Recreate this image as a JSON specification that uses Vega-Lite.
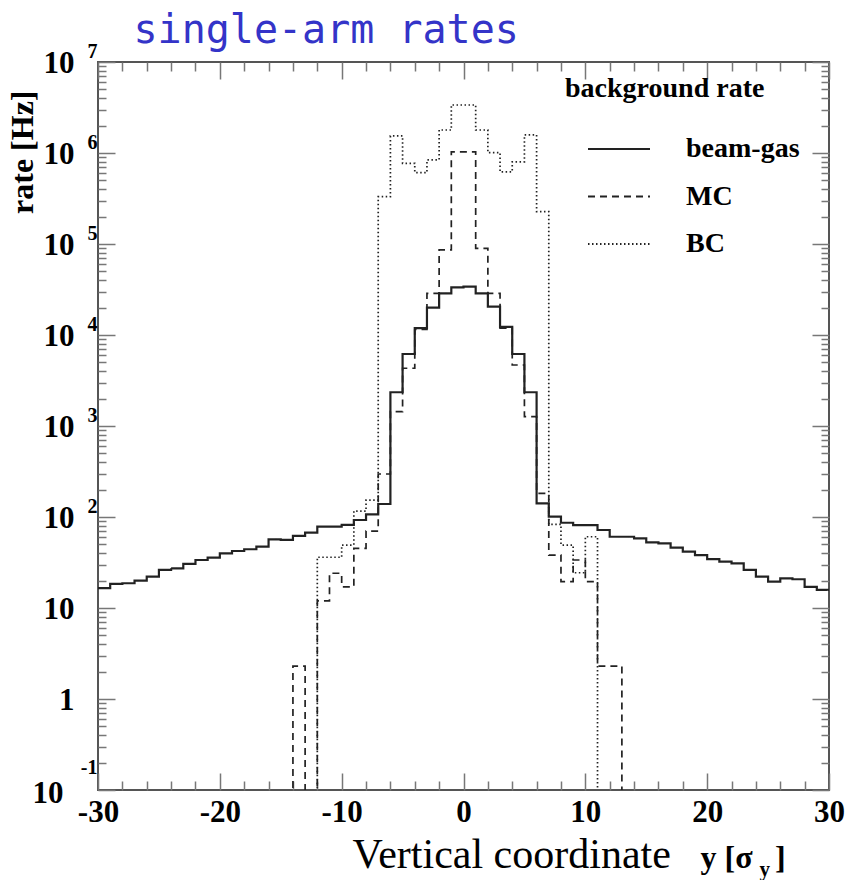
{
  "$schema": "https://vega.github.io/schema/vega-lite/v6.json",
  "width": 731,
  "height": 728,
  "autosize": {"type": "none"},
  "padding": {"left": 98, "top": 62, "right": 21, "bottom": 90},
  "data": {"values": [
    {"s":"beam-gas","x":-30,"v":16.5},{"s":"beam-gas","x":-29,"v":18.4},{"s":"beam-gas","x":-28,"v":18.7},{"s":"beam-gas","x":-27,"v":20.0},{"s":"beam-gas","x":-26,"v":22.1},{"s":"beam-gas","x":-25,"v":26.2},{"s":"beam-gas","x":-24,"v":27.3},{"s":"beam-gas","x":-23,"v":30.5},{"s":"beam-gas","x":-22,"v":33.7},{"s":"beam-gas","x":-21,"v":35.7},
    {"s":"beam-gas","x":-20,"v":39.9},{"s":"beam-gas","x":-19,"v":42.3},{"s":"beam-gas","x":-18,"v":44.2},{"s":"beam-gas","x":-17,"v":47.2},{"s":"beam-gas","x":-16,"v":56.9},{"s":"beam-gas","x":-15,"v":56},{"s":"beam-gas","x":-14,"v":62},{"s":"beam-gas","x":-13,"v":67.2},{"s":"beam-gas","x":-12,"v":78.2},{"s":"beam-gas","x":-11,"v":78.2},
    {"s":"beam-gas","x":-10,"v":82},{"s":"beam-gas","x":-9,"v":92.7},{"s":"beam-gas","x":-8,"v":107},{"s":"beam-gas","x":-7,"v":139},{"s":"beam-gas","x":-6,"v":2350},{"s":"beam-gas","x":-5,"v":6180},{"s":"beam-gas","x":-4,"v":11900},{"s":"beam-gas","x":-3,"v":20000},{"s":"beam-gas","x":-2,"v":28700},{"s":"beam-gas","x":-1,"v":33400},
    {"s":"beam-gas","x":0,"v":34000},{"s":"beam-gas","x":1,"v":28700},{"s":"beam-gas","x":2,"v":20500},{"s":"beam-gas","x":3,"v":12300},{"s":"beam-gas","x":4,"v":6180},{"s":"beam-gas","x":5,"v":2350},{"s":"beam-gas","x":6,"v":141},{"s":"beam-gas","x":7,"v":101},{"s":"beam-gas","x":8,"v":86.5},{"s":"beam-gas","x":9,"v":81.6},
    {"s":"beam-gas","x":10,"v":81.6},{"s":"beam-gas","x":11,"v":72},{"s":"beam-gas","x":12,"v":60.7},{"s":"beam-gas","x":13,"v":60.7},{"s":"beam-gas","x":14,"v":58.3},{"s":"beam-gas","x":15,"v":52.7},{"s":"beam-gas","x":16,"v":51.4},{"s":"beam-gas","x":17,"v":46.0},{"s":"beam-gas","x":18,"v":41.6},{"s":"beam-gas","x":19,"v":38.2},
    {"s":"beam-gas","x":20,"v":34.5},{"s":"beam-gas","x":21,"v":32.3},{"s":"beam-gas","x":22,"v":31.0},{"s":"beam-gas","x":23,"v":26.2},{"s":"beam-gas","x":24,"v":22.1},{"s":"beam-gas","x":25,"v":19.5},{"s":"beam-gas","x":26,"v":21.2},{"s":"beam-gas","x":27,"v":20.7},{"s":"beam-gas","x":28,"v":17.1},{"s":"beam-gas","x":29,"v":15.8},
    {"s":"beam-gas","x":30,"v":15.8},

    {"s":"MC","x":-30,"v":0.01},{"s":"MC","x":-29,"v":0.01},{"s":"MC","x":-28,"v":0.01},{"s":"MC","x":-27,"v":0.01},{"s":"MC","x":-26,"v":0.01},{"s":"MC","x":-25,"v":0.01},{"s":"MC","x":-24,"v":0.01},{"s":"MC","x":-23,"v":0.01},{"s":"MC","x":-22,"v":0.01},{"s":"MC","x":-21,"v":0.01},
    {"s":"MC","x":-20,"v":0.01},{"s":"MC","x":-19,"v":0.01},{"s":"MC","x":-18,"v":0.01},{"s":"MC","x":-17,"v":0.01},{"s":"MC","x":-16,"v":0.01},{"s":"MC","x":-15,"v":0.01},{"s":"MC","x":-14,"v":2.3},{"s":"MC","x":-13,"v":0.01},{"s":"MC","x":-12,"v":12.0},{"s":"MC","x":-11,"v":24.1},
    {"s":"MC","x":-10,"v":17.1},{"s":"MC","x":-9,"v":45.3},{"s":"MC","x":-8,"v":70},{"s":"MC","x":-7,"v":297},{"s":"MC","x":-6,"v":1440},{"s":"MC","x":-5,"v":4310},{"s":"MC","x":-4,"v":11500},{"s":"MC","x":-3,"v":28700},{"s":"MC","x":-2,"v":86000},{"s":"MC","x":-1,"v":1030000},
    {"s":"MC","x":0,"v":1030000},{"s":"MC","x":1,"v":89700},{"s":"MC","x":2,"v":28700},{"s":"MC","x":3,"v":11900},{"s":"MC","x":4,"v":4680},{"s":"MC","x":5,"v":1270},{"s":"MC","x":6,"v":182},{"s":"MC","x":7,"v":38.2},{"s":"MC","x":8,"v":19.5},{"s":"MC","x":9,"v":33.7},
    {"s":"MC","x":10,"v":19.5},{"s":"MC","x":11,"v":2.3},{"s":"MC","x":12,"v":2.3},{"s":"MC","x":13,"v":0.01},{"s":"MC","x":14,"v":0.01},{"s":"MC","x":15,"v":0.01},{"s":"MC","x":16,"v":0.01},{"s":"MC","x":17,"v":0.01},{"s":"MC","x":18,"v":0.01},{"s":"MC","x":19,"v":0.01},
    {"s":"MC","x":20,"v":0.01},{"s":"MC","x":21,"v":0.01},{"s":"MC","x":22,"v":0.01},{"s":"MC","x":23,"v":0.01},{"s":"MC","x":24,"v":0.01},{"s":"MC","x":25,"v":0.01},{"s":"MC","x":26,"v":0.01},{"s":"MC","x":27,"v":0.01},{"s":"MC","x":28,"v":0.01},{"s":"MC","x":29,"v":0.01},
    {"s":"MC","x":30,"v":0.01},

    {"s":"BC","x":-30,"v":0.01},{"s":"BC","x":-29,"v":0.01},{"s":"BC","x":-28,"v":0.01},{"s":"BC","x":-27,"v":0.01},{"s":"BC","x":-26,"v":0.01},{"s":"BC","x":-25,"v":0.01},{"s":"BC","x":-24,"v":0.01},{"s":"BC","x":-23,"v":0.01},{"s":"BC","x":-22,"v":0.01},{"s":"BC","x":-21,"v":0.01},
    {"s":"BC","x":-20,"v":0.01},{"s":"BC","x":-19,"v":0.01},{"s":"BC","x":-18,"v":0.01},{"s":"BC","x":-17,"v":0.01},{"s":"BC","x":-16,"v":0.01},{"s":"BC","x":-15,"v":0.01},{"s":"BC","x":-14,"v":0.01},{"s":"BC","x":-13,"v":0.01},{"s":"BC","x":-12,"v":36.1},{"s":"BC","x":-11,"v":36.1},
    {"s":"BC","x":-10,"v":49.2},{"s":"BC","x":-9,"v":116},{"s":"BC","x":-8,"v":153},{"s":"BC","x":-7,"v":331000},{"s":"BC","x":-6,"v":1540000},{"s":"BC","x":-5,"v":770000},{"s":"BC","x":-4,"v":608000},{"s":"BC","x":-3,"v":840000},{"s":"BC","x":-2,"v":1790000},{"s":"BC","x":-1,"v":3370000},
    {"s":"BC","x":0,"v":3370000},{"s":"BC","x":1,"v":1790000},{"s":"BC","x":2,"v":1010000},{"s":"BC","x":3,"v":620000},{"s":"BC","x":4,"v":800000},{"s":"BC","x":5,"v":1580000},{"s":"BC","x":6,"v":227000},{"s":"BC","x":7,"v":83.1},{"s":"BC","x":8,"v":49.2},{"s":"BC","x":9,"v":24.4},
    {"s":"BC","x":10,"v":60.7},{"s":"BC","x":11,"v":0.01},{"s":"BC","x":12,"v":0.01},{"s":"BC","x":13,"v":0.01},{"s":"BC","x":14,"v":0.01},{"s":"BC","x":15,"v":0.01},{"s":"BC","x":16,"v":0.01},{"s":"BC","x":17,"v":0.01},{"s":"BC","x":18,"v":0.01},{"s":"BC","x":19,"v":0.01},
    {"s":"BC","x":20,"v":0.01},{"s":"BC","x":21,"v":0.01},{"s":"BC","x":22,"v":0.01},{"s":"BC","x":23,"v":0.01},{"s":"BC","x":24,"v":0.01},{"s":"BC","x":25,"v":0.01},{"s":"BC","x":26,"v":0.01},{"s":"BC","x":27,"v":0.01},{"s":"BC","x":28,"v":0.01},{"s":"BC","x":29,"v":0.01},
    {"s":"BC","x":30,"v":0.01}
  ]},
  "layer": [
    {
      "transform": [{"filter": "datum.s === 'beam-gas'"}],
      "mark": {"type": "line", "interpolate": "step-after", "clip": true, "color": "#222222", "strokeWidth": 2.2},
      "encoding": {
        "x": {"field": "x", "type": "quantitative", "scale": {"domain": [-30, 30], "nice": false, "zero": false},
          "axis": {"orient": "bottom", "values": [-30, -20, -10, 0, 10, 20, 30], "ticks": false, "labelFontSize": 31, "labelPadding": 7, "labelFlush": false, "labelOverlap": false,
            "labelExpr": "'' + datum.value",
            "title": "Vertical coordinate", "titleFontWeight": "normal", "titleFontSize": 42, "titleX": 254, "titleY": 77, "titleAlign": "left", "titleBaseline": "alphabetic"}},
        "y": {"field": "v", "type": "quantitative", "scale": {"type": "log", "domain": [0.1, 10000000], "nice": false},
          "axis": {"orient": "left", "values": [0.1, 1, 10, 100, 1000, 10000, 100000, 1000000, 10000000], "ticks": false, "labelOverlap": false, "labelFlush": false,
            "labelExpr": "datum.value == 1 ? '1' : '10'", "labelFontSize": 31, "labelBaseline": "middle",
            "labelPadding": {"condition": {"test": "datum.value < 0.5", "value": 35}, "value": 24},
            "labelOffset": {"condition": {"test": "datum.value < 0.5", "value": 3}, "value": 1},
            "title": "rate [Hz]", "titleFontWeight": "bold", "titleFontSize": 32, "titleAngle": -90, "titleX": -76, "titleY": 28, "titleAlign": "right", "titleBaseline": "middle"}},
        "strokeDash": {"field": "s", "type": "nominal",
          "scale": {"domain": ["beam-gas", "MC", "BC"], "range": [[1, 0], [7, 5], [1.5, 2.5]]},
          "legend": {"title": "background rate", "orient": "none", "legendX": 467, "legendY": 13, "direction": "vertical", "padding": 0,
            "titleFont": "Liberation Serif", "titleFontSize": 28, "titleFontWeight": "bold", "titleColor": "black", "titlePadding": 32, "titleLimit": 0,
            "labelFont": "Liberation Serif", "labelFontSize": 28, "labelFontWeight": "bold", "labelColor": "black", "labelLimit": 0,
            "symbolType": "M-3.1,0H3.1", "symbolSize": 400, "symbolStrokeWidth": 1.8, "symbolStrokeColor": "#222222", "symbolFillColor": "transparent",
            "symbolOffset": 40, "labelOffset": 53, "rowPadding": 19.5}}
      }
    },
    {
      "transform": [{"filter": "datum.s === 'MC'"}],
      "mark": {"type": "line", "interpolate": "step-after", "clip": true, "color": "#222222", "strokeWidth": 1.7},
      "encoding": {
        "x": {"field": "x", "type": "quantitative", "scale": {"domain": [-30, 30], "nice": false, "zero": false},
          "axis": {"orient": "bottom", "values": [-30,-28,-26,-24,-22,-20,-18,-16,-14,-12,-10,-8,-6,-4,-2,0,2,4,6,8,10,12,14,16,18,20,22,24,26,28,30], "labels": false,
            "tickColor": "#777777", "tickWidth": 1.5,
            "tickSize": {"condition": {"test": "datum.value % 10 === 0", "value": -17}, "value": -9},
            "title": "y [σ\u00a0\u00a0\u2009]", "titleFontWeight": "bold", "titleFontSize": 32, "titleX": 602, "titleY": 77, "titleAlign": "left", "titleBaseline": "alphabetic"}},
        "y": {"field": "v", "type": "quantitative", "scale": {"type": "log", "domain": [0.1, 10000000], "nice": false},
          "axis": {"orient": "left", "values": [0.1, 100, 1000, 10000, 100000, 1000000, 10000000], "ticks": false, "labelOverlap": false, "labelFlush": false,
            "labelExpr": "datum.value < 0.5 ? '-1' : format(log(datum.value)/LN10, '.0f')", "labelFontSize": 20, "labelAlign": "right", "labelBaseline": "middle", "labelPadding": 1,
            "labelOffset": {"condition": {"test": "datum.value < 0.5", "value": -23}, "value": -11},
            "title": null}},
        "strokeDash": {"field": "s", "type": "nominal", "scale": {"domain": ["beam-gas", "MC", "BC"], "range": [[1, 0], [7, 5], [1.5, 2.5]]}}
      }
    },
    {
      "transform": [{"filter": "datum.s === 'BC'"}],
      "mark": {"type": "line", "interpolate": "step-after", "clip": true, "color": "#222222", "strokeWidth": 1.7},
      "encoding": {
        "x": {"field": "x", "type": "quantitative", "scale": {"domain": [-30, 30], "nice": false, "zero": false},
          "axis": {"orient": "top", "values": [-30,-28,-26,-24,-22,-20,-18,-16,-14,-12,-10,-8,-6,-4,-2,0,2,4,6,8,10,12,14,16,18,20,22,24,26,28,30], "labels": false,
            "tickColor": "#777777", "tickWidth": 1.5,
            "tickSize": {"condition": {"test": "datum.value % 10 === 0", "value": -17}, "value": -9},
            "title": "single-arm rates", "titleFont": "DejaVu Sans Mono", "titleFontSize": 40, "titleFontWeight": "normal", "titleColor": "#3434c8",
            "titleX": 35, "titleY": -20, "titleAlign": "left", "titleBaseline": "alphabetic"}},
        "y": {"field": "v", "type": "quantitative", "scale": {"type": "log", "domain": [0.1, 10000000], "nice": false},
          "axis": {"orient": "left", "values": [0.1,0.2,0.3,0.4,0.5,0.6,0.7,0.8,0.9,1,2,3,4,5,6,7,8,9,10,20,30,40,50,60,70,80,90,100,200,300,400,500,600,700,800,900,1000,2000,3000,4000,5000,6000,7000,8000,9000,10000,20000,30000,40000,50000,60000,70000,80000,90000,100000,200000,300000,400000,500000,600000,700000,800000,900000,1000000,2000000,3000000,4000000,5000000,6000000,7000000,8000000,9000000,10000000],
            "labels": false, "tickColor": "#777777", "tickWidth": 1.5,
            "tickSize": {"condition": {"test": "indexof([0.1,1,10,100,1000,10000,100000,1000000,10000000], datum.value) >= 0", "value": -17}, "value": -8},
            "title": null}},
        "strokeDash": {"field": "s", "type": "nominal", "scale": {"domain": ["beam-gas", "MC", "BC"], "range": [[1, 0], [7, 5], [1.5, 2.5]]}}
      }
    },
    {
      "transform": [{"filter": "datum.s === 'beam-gas'"}],
      "mark": {"type": "line", "interpolate": "step-after", "clip": true, "color": "#222222", "opacity": 0},
      "encoding": {
        "x": {"field": "x", "type": "quantitative", "scale": {"domain": [-30, 30], "nice": false, "zero": false},
          "axis": {"orient": "bottom", "ticks": false, "labels": false,
            "title": "y", "titleFontWeight": "bold", "titleFontSize": 21, "titleX": 661, "titleY": 85, "titleAlign": "left", "titleBaseline": "alphabetic"}},
        "y": {"field": "v", "type": "quantitative", "scale": {"type": "log", "domain": [0.1, 10000000], "nice": false},
          "axis": {"orient": "right", "values": [0.1,0.2,0.3,0.4,0.5,0.6,0.7,0.8,0.9,1,2,3,4,5,6,7,8,9,10,20,30,40,50,60,70,80,90,100,200,300,400,500,600,700,800,900,1000,2000,3000,4000,5000,6000,7000,8000,9000,10000,20000,30000,40000,50000,60000,70000,80000,90000,100000,200000,300000,400000,500000,600000,700000,800000,900000,1000000,2000000,3000000,4000000,5000000,6000000,7000000,8000000,9000000,10000000],
            "labels": false, "tickColor": "#777777", "tickWidth": 1.5,
            "tickSize": {"condition": {"test": "indexof([0.1,1,10,100,1000,10000,100000,1000000,10000000], datum.value) >= 0", "value": -17}, "value": -8},
            "title": null}}
      }
    }
  ],
  "resolve": {"axis": {"x": "independent", "y": "independent"}},
  "config": {
    "view": {"stroke": "#555555", "strokeWidth": 2},
    "axis": {"domain": false, "grid": false, "labelFont": "Liberation Serif", "labelFontWeight": "bold", "labelColor": "black", "titleFont": "Liberation Serif", "titleColor": "black"},
    "font": "Liberation Serif"
  }
}
